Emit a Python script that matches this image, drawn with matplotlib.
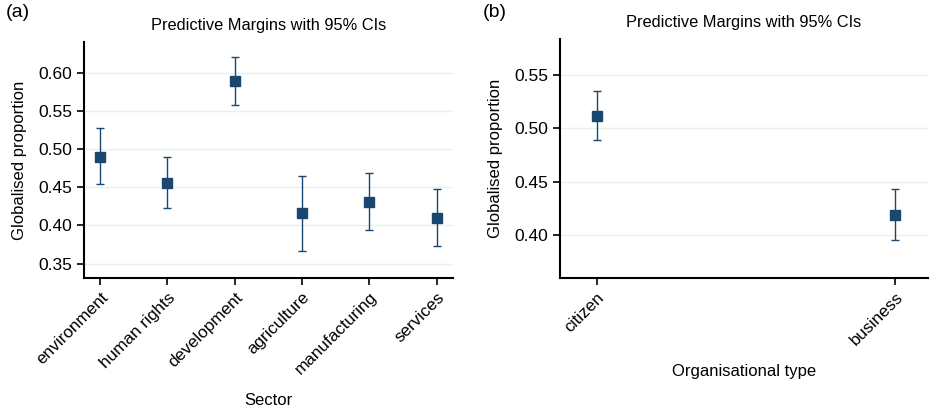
import numpy as np
import matplotlib
matplotlib.use("Agg")
import matplotlib.pyplot as plt

plt.rcParams["font.family"] = ["Liberation Sans", "DejaVu Sans"]

# ── Data ──────────────────────────────────────────────────────────────────────
sectors   = ["environment", "human rights", "development",
             "agriculture", "manufacturing", "services"]
sec_mean  = [0.490, 0.456, 0.589, 0.416, 0.431, 0.410]
sec_lo    = [0.454, 0.423, 0.558, 0.367, 0.394, 0.373]
sec_hi    = [0.527, 0.490, 0.620, 0.465, 0.469, 0.447]

orgtypes  = ["citizen", "business"]
org_mean  = [0.512, 0.419]
org_lo    = [0.489, 0.395]
org_hi    = [0.535, 0.443]

NAVY = "#1a476f"
GRID = "#e8f0f2"

fig = plt.figure(figsize=(9.3, 4.08), dpi=100)
axA = fig.add_axes([0.0903, 0.3186, 0.3967, 0.5784])
axB = fig.add_axes([0.602, 0.319, 0.396, 0.585])


def panel(ax, cats, mean, lo, hi, yticks, ylim, xlim, xlabel):
    x = np.arange(len(cats))
    mean = np.array(mean)
    err = np.vstack([mean - np.array(lo), np.array(hi) - mean])
    ax.errorbar(x, mean, yerr=err, fmt="none", ecolor=NAVY, elinewidth=1.0,
                capsize=3, capthick=1.0, zorder=3)
    ax.plot(x, mean, "s", color=NAVY, ms=6.5, zorder=4)
    ax.set_xlim(*xlim)
    ax.set_ylim(*ylim)
    ax.set_yticks(yticks)
    ax.set_yticklabels([f"{t:.2f}" for t in yticks], fontsize=12.5)
    ax.set_xticks(x)
    ax.set_xticklabels(cats, rotation=45, ha="right", rotation_mode="anchor",
                       fontsize=12.3)
    ax.yaxis.grid(True, color=GRID, lw=1.0, zorder=0)
    ax.set_axisbelow(True)
    ax.spines[["top", "right"]].set_visible(False)
    ax.spines[["left", "bottom"]].set_linewidth(1.5)
    ax.tick_params(axis="both", length=5, width=1.2, direction="out")
    ax.set_ylabel("Globalised proportion", fontsize=12, labelpad=8)
    ax.set_xlabel(xlabel, fontsize=12, labelpad=11)
    ax.set_title("Predictive Margins with 95% CIs", fontsize=11.8, pad=9)


panel(axA, sectors, sec_mean, sec_lo, sec_hi,
      [0.35, 0.40, 0.45, 0.50, 0.55, 0.60], (0.331, 0.640), (-0.24, 5.24),
      "Sector")
panel(axB, orgtypes, org_mean, org_lo, org_hi,
      [0.40, 0.45, 0.50, 0.55], (0.3595, 0.584), (-0.123, 1.11),
      "Organisational type")

fig.text(0.006, 0.99, "(a)", fontsize=14, va="top", ha="left")
fig.text(0.519, 0.99, "(b)", fontsize=14, va="top", ha="left")

fig.savefig("out.png", dpi=100)
